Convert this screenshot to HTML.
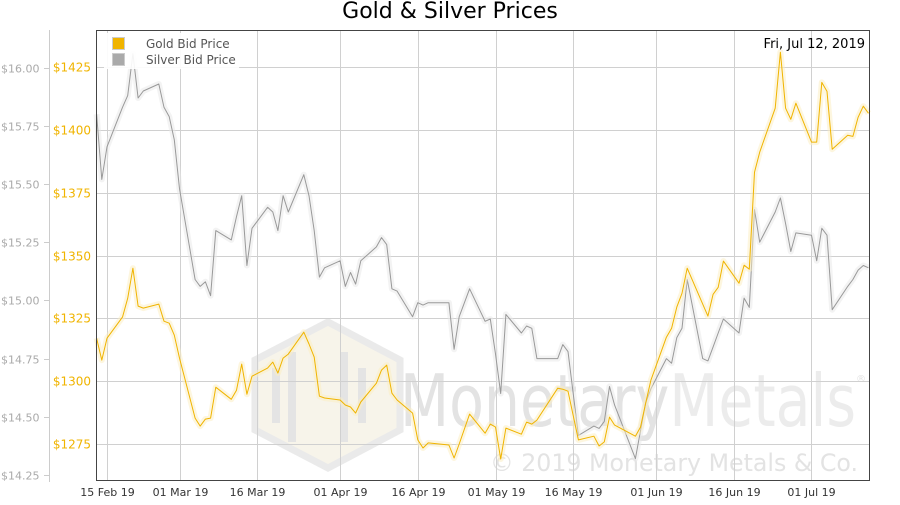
<!DOCTYPE html>
<html><head><meta charset="utf-8"><style>
body{margin:0;background:#fff;}
svg text{font-family:"DejaVu Sans","Liberation Sans",sans-serif;}
</style></head><body>
<svg id="chart" width="900" height="500" viewBox="0 0 900 500" xmlns="http://www.w3.org/2000/svg">
<text x="450" y="18" text-anchor="middle" font-size="22" fill="#000">Gold &amp; Silver Prices</text>
<g id="watermark">
  <polygon points="255,360 328,322 400,360 400,430 328,468 255,430" fill="#f6f2e6" stroke="#e6e6e6" stroke-width="7" opacity="0.8"/>
  <rect x="272" y="368" width="8" height="55" fill="#e4e4e4"/>
  <rect x="288" y="352" width="8" height="90" fill="#e4e4e4"/>
  <rect x="340" y="352" width="8" height="90" fill="#e4e4e4"/>
  <rect x="358" y="368" width="8" height="55" fill="#e4e4e4"/>
  <text x="400" y="426" font-size="72" fill="#e3e3e3" textLength="456" lengthAdjust="spacingAndGlyphs">Monetary<tspan fill="#ececec">Metals</tspan></text>
  <text x="856" y="382" font-size="10" fill="#e3e3e3">®</text>
  <text x="490" y="471" font-size="24" fill="#e3e3e3" textLength="368" lengthAdjust="spacingAndGlyphs">© 2019 Monetary Metals &amp; Co.</text>
</g>
<g id="grid"></g>
<g id="axes"></g>
<g id="series"></g>
<rect x="96.5" y="30.5" width="773" height="450" fill="none" stroke="#444" stroke-width="1"/>
<g>
  <rect x="104" y="33" width="135" height="36" fill="#fff" opacity="0.9"/>
  <g>
    <rect x="112.5" y="37.5" width="12" height="12" fill="#f0b400" stroke="#ccc"/>
    <text x="146" y="48" font-size="12" fill="#555">Gold Bid Price</text>
  </g>
  <g>
    <rect x="112.5" y="53.5" width="12" height="12" fill="#aaa" stroke="#ccc"/>
    <text x="146" y="64" font-size="12" fill="#555">Silver Bid Price</text>
  </g>
</g>
<text x="865" y="48" text-anchor="end" font-size="13" fill="#000">Fri, Jul 12, 2019</text>
</svg>
<script>
const days=[-2,-1,0,3,4,5,6,7,10,11,12,13,14,17,18,19,20,21,24,25,26,27,28,31,32,33,34,35,38,39,40,41,42,45,46,47,48,49,52,53,54,55,56,59,60,61,62,66,67,68,70,73,74,75,76,77,80,81,82,83,87,88,89,91,94,95,96,97,98,102,103,104,105,108,109,110,111,112,115,116,117,118,119,122,123,124,125,126,129,130,131,132,133,136,137,138,139,140,143,144,145,146,147];
const gold=[1317.1,1308.4,1317.1,1325.5,1333.0,1345.0,1329.9,1329.1,1330.7,1323.9,1323.1,1318.3,1309.2,1285.3,1282.1,1284.9,1285.3,1297.6,1292.8,1296.4,1306.8,1294.8,1302.0,1305.2,1307.6,1303.2,1309.2,1310.8,1319.5,1314.8,1309.6,1294.0,1293.3,1292.5,1290.5,1289.7,1287.3,1291.7,1299.2,1304.4,1306.4,1295.2,1292.5,1287.3,1276.6,1273.4,1275.4,1274.6,1269.4,1275.0,1286.9,1279.3,1282.9,1281.7,1269.0,1281.3,1278.9,1283.7,1282.9,1284.5,1297.2,1296.8,1296.0,1276.6,1278.1,1274.2,1275.8,1285.7,1282.5,1278.1,1281.7,1291.3,1300.4,1317.5,1321.1,1329.5,1335.0,1345.0,1330.7,1325.9,1334.6,1337.4,1347.8,1339.0,1346.2,1344.6,1383.2,1391.2,1408.7,1431.0,1408.7,1404.3,1410.7,1395.2,1395.2,1419.0,1415.4,1392.4,1397.9,1397.5,1405.1,1409.5,1406.7];
const silver=[15.80,15.52,15.66,15.83,15.88,16.06,15.87,15.90,15.93,15.83,15.79,15.69,15.48,15.09,15.06,15.08,15.02,15.30,15.26,15.36,15.45,15.15,15.31,15.40,15.38,15.30,15.45,15.38,15.54,15.45,15.30,15.10,15.14,15.17,15.06,15.12,15.07,15.17,15.23,15.27,15.24,15.05,15.04,14.93,14.99,14.98,14.99,14.99,14.79,14.93,15.05,14.91,14.92,14.77,14.60,14.94,14.86,14.89,14.88,14.75,14.75,14.81,14.78,14.42,14.46,14.45,14.48,14.63,14.55,14.32,14.44,14.56,14.62,14.75,14.73,14.84,14.88,15.09,14.75,14.74,14.80,14.86,14.92,14.86,15.01,14.97,15.39,15.25,15.38,15.44,15.33,15.21,15.29,15.28,15.17,15.31,15.28,14.96,15.06,15.09,15.13,15.15,15.14];
const goldTicks=[1275,1300,1325,1350,1375,1400,1425];
const silverTicks=[14.25,14.50,14.75,15.00,15.25,15.50,15.75,16.00];
const xTickDays=[0,14,29,45,60,75,90,106,121,136];
const xTickLabels=["15 Feb 19","01 Mar 19","16 Mar 19","01 Apr 19","16 Apr 19","01 May 19","16 May 19","01 Jun 19","16 Jun 19","01 Jul 19"];

const NS="http://www.w3.org/2000/svg";
const xS=d=>107+d*5.18;
const gY=v=>67.3+(1425-v)*2.511;
const sY=v=>67.7+(16-v)*232.7;
function mk(tag,attrs,parent){const e=document.createElementNS(NS,tag);for(const k in attrs)e.setAttribute(k,attrs[k]);parent.appendChild(e);return e;}
const grid=document.getElementById('grid'),axes=document.getElementById('axes'),series=document.getElementById('series');

goldTicks.forEach(t=>{
  const y=Math.round(gY(t))+0.5;
  const l=mk('line',{x1:96,x2:870,y1:y,y2:y,stroke:'#d0d0d0','stroke-width':1},grid);
  
  
  const tx=mk('text',{x:91,y:y+4,'text-anchor':'end','font-size':12,fill:'#f0b400'},axes);
  tx.textContent='$'+t;
  
  
});
mk('line',{x1:49.5,x2:49.5,y1:30,y2:482,stroke:'#ccc'},axes);
silverTicks.forEach(t=>{
  const y=Math.round(sY(t))+0.5;
  mk('line',{x1:44,x2:49,y1:y,y2:y,stroke:'#ccc'},axes);
  const tx=mk('text',{x:1,y:y+4,'font-size':11,fill:'#aaa'},axes);
  tx.textContent='$'+t.toFixed(2);
  
  
});
xTickDays.forEach((d,i)=>{
  const x=Math.round(xS(d))+0.5;
  const l=mk('line',{x1:x,x2:x,y1:30,y2:481,stroke:'#d0d0d0'},grid);
  
  
  const tx=mk('text',{x:x,y:496,'text-anchor':'middle','font-size':11,fill:'#333'},axes);
  tx.textContent=xTickLabels[i];
  
  
});
function line(vals,yf,color,glow,name){
  const pts=vals.map((v,i)=>xS(days[i]).toFixed(1)+','+yf(v).toFixed(1)).join(' ');
  mk('polyline',{points:pts,fill:'none',stroke:glow,'stroke-width':6,'stroke-linejoin':'round',opacity:0.5},series);
  const p=mk('polyline',{points:pts,fill:'none',stroke:color,'stroke-width':1,'stroke-linejoin':'round'},series);
  
  
}
line(silver,sY,'#999','#e8e8e8','silver-line');
line(gold,gY,'#f0b400','#fbeec0','gold-line');
</script>
</body></html>
